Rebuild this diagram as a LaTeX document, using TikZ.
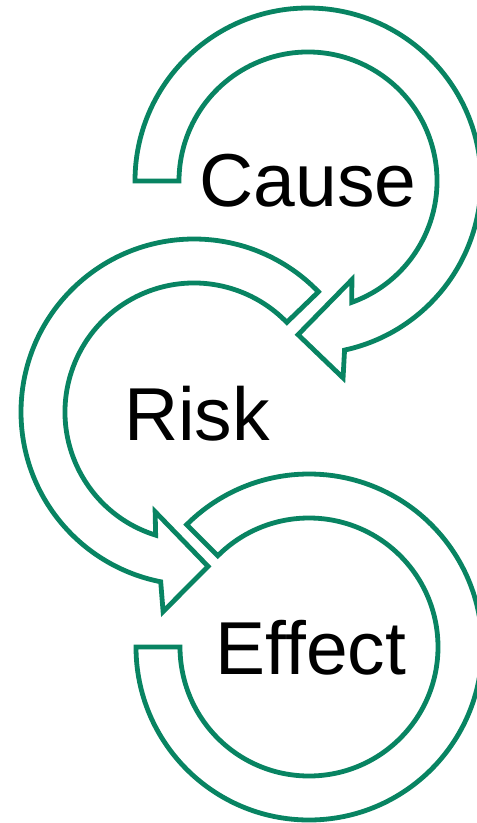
\documentclass[tikz,border=0pt]{standalone}
\usepackage{fontspec}
\setmainfont{Liberation Sans}
\definecolor{ringgreen}{RGB}{8,132,98}
\tikzset{
  ringarrow/.style={draw=ringgreen, fill=white, line width=4.8pt, line join=miter},
  lbl/.style={inner sep=0pt, font=\fontsize{75}{80}\selectfont, text=black}
}
\begin{document}
\begin{tikzpicture}[x=1pt, y=-1pt]
  \clip (0,0) rectangle (477,823);
  \fill[white] (0,0) rectangle (477,823);

  % Cause: clockwise ring from the left, head pointing down-left
  \begin{scope}[shift={(308,181)}]
    \draw[ringarrow] (180:173) arc[start angle=180, end angle=437.8, radius=173]
      -- (79.9:200) -- (93.7:154) -- (66:108) -- (70.2:129)
      arc[start angle=430.2, end angle=180, radius=129] -- cycle;
  \end{scope}

  % Risk: counter-clockwise ring from upper right, head pointing down-right
  \begin{scope}[shift={(194,412)}]
    \draw[ringarrow] (-44:173) arc[start angle=-44, end angle=-258.9, radius=173]
      -- (98.8:202) -- (84.8:155) -- (111.3:107) -- (107.3:129)
      arc[start angle=-252.7, end angle=-44, radius=129] -- cycle;
  \end{scope}

  % Effect: open ring without head
  \begin{scope}[shift={(309,647)}]
    \draw[ringarrow] (180:173) arc[start angle=180, end angle=-135, radius=173]
      -- (-135:129) arc[start angle=-135, end angle=180, radius=129] -- cycle;
  \end{scope}

  \node[lbl] (cause)  at (308,181) {Cause};
  \node[lbl] (risk)   at (197,414) {Risk};
  \node[lbl] (effect) at (311,648) {Effect};
\end{tikzpicture}
\end{document}
